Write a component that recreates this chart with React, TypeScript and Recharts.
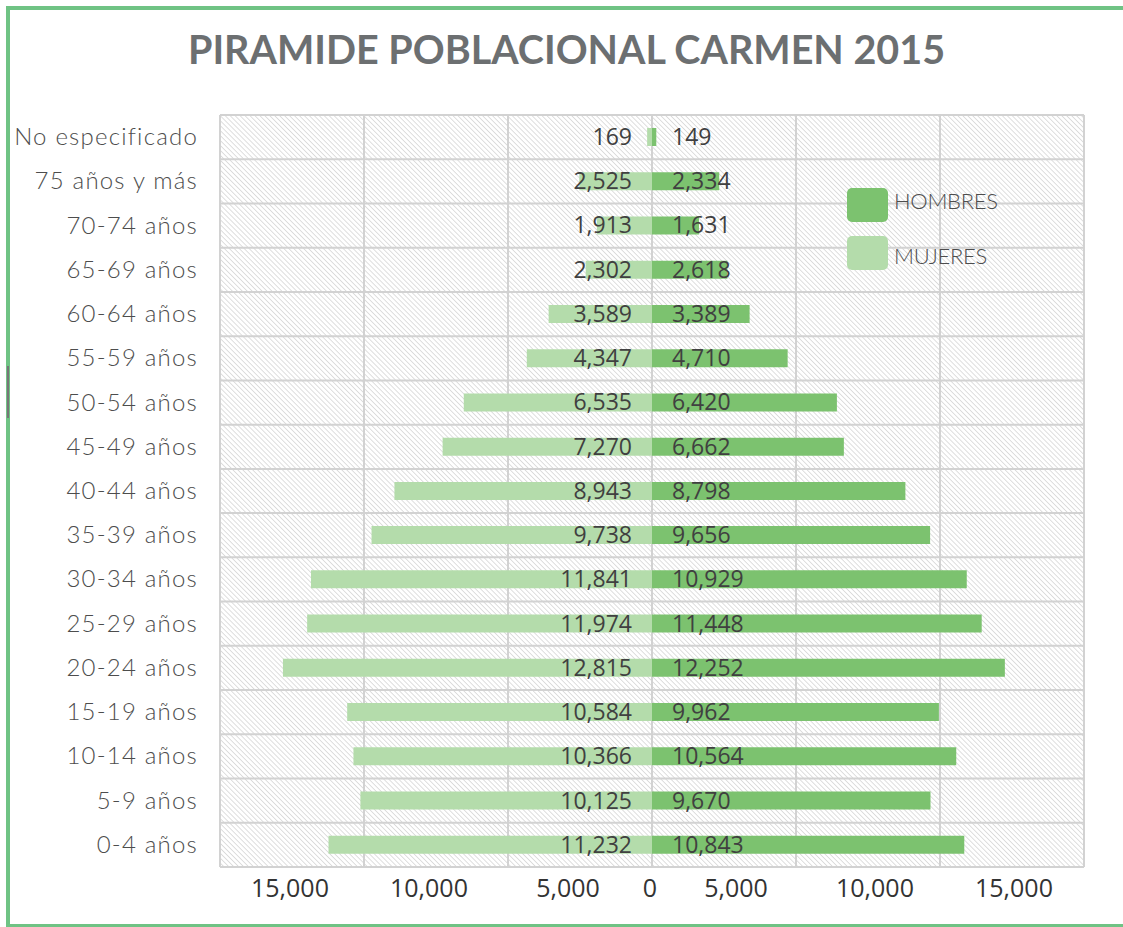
import { BarChart, Bar, XAxis, YAxis, CartesianGrid, LabelList } from 'recharts';

const CATEGORIAS = [
  'No especificado', '75 años y más', '70-74 años', '65-69 años', '60-64 años',
  '55-59 años', '50-54 años', '45-49 años', '40-44 años', '35-39 años',
  '30-34 años', '25-29 años', '20-24 años', '15-19 años', '10-14 años',
  '5-9 años', '0-4 años',
];
const MUJERES = [169, 2525, 1913, 2302, 3589, 4347, 6535, 7270, 8943, 9738, 11841, 11974, 12815, 10584, 10366, 10125, 11232];
const HOMBRES = [149, 2334, 1631, 2618, 3389, 4710, 6420, 6662, 8798, 9656, 10929, 11448, 12252, 9962, 10564, 9670, 10843];
const X_TICKS = [-15000, -10000, -5000, 0, 5000, 10000, 15000];

const W = 1123;
const H = 927;
const MARGIN = { top: 115, right: 39, bottom: 30, left: 0 };
const C_HOMBRES = '#7cc26f';
const C_MUJERES = '#b4dcab';
const GRID = '#d2d2d2';
const fmt = (v: number) => Math.abs(v).toLocaleString('en-US');

const data = CATEGORIAS.map((grupo, i) => ({ grupo, mujeres: -MUJERES[i], hombres: HOMBRES[i] }));

function XTick({ x, y, payload }: any) {
  const v = payload.value as number;
  // etiquetas desplazadas hacia el centro, como en el original
  const dx = v === 0 ? -2 : -Math.sign(v) * (55 + Math.abs(v) / 1000);
  return (
    <text x={x + dx} y={y + 22} textAnchor="middle" fill="#333"
      style={{ fontFamily: '"Open Sans", sans-serif', fontSize: 25 }}>
      {fmt(v)}
    </text>
  );
}

function YTick({ x, y, payload }: any) {
  return (
    <text x={x} y={y} dy={8} textAnchor="end" fill="#4d4d4d"
      style={{ fontFamily: 'Lato, sans-serif', fontWeight: 300, fontSize: 24, letterSpacing: 1.2 }}>
      {payload.value}
    </text>
  );
}

function labelFor(side: 'm' | 'h') {
  return ({ x, y, width, height, value }: any) => {
    const zero = side === 'm' ? Math.max(x, x + width) : Math.min(x, x + width);
    return (
      <text x={side === 'm' ? zero - 20 : zero + 20} y={y + height / 2} dy={8}
        textAnchor={side === 'm' ? 'end' : 'start'} fill="#404040"
        style={{ fontFamily: '"Open Sans", sans-serif', fontSize: 23 }}>
        {fmt(value)}
      </text>
    );
  };
}

function LegendBox() {
  const items = [
    { name: 'HOMBRES', color: C_HOMBRES, pad: 1 },
    { name: 'MUJERES', color: C_MUJERES, pad: 8 },
  ];
  return (
    <div style={{ position: 'absolute', left: 847, top: 188 }}>
      {items.map((it) => (
        <div key={it.name} style={{ display: 'flex', alignItems: 'flex-start', height: 34, marginBottom: 14 }}>
          <div style={{ width: 41, height: 34, background: it.color, borderRadius: 5 }} />
          <span style={{
            fontFamily: 'Lato, sans-serif', fontWeight: 300, fontSize: 22, color: '#4d4d4d',
            marginLeft: 6, lineHeight: '24px', letterSpacing: -0.3, paddingTop: it.pad,
          }}>
            {it.name}
          </span>
        </div>
      ))}
    </div>
  );
}

export default function App() {
  return (
    <div style={{ position: 'absolute', left: 0, top: 0, width: W, height: H, overflow: 'hidden', background: '#fff' }}>
      <div style={{ position: 'absolute', left: 6, top: 6, width: 1140, height: 914, border: '4px solid #6fc384' }} />
      <div style={{ position: 'absolute', left: 7, top: 366, width: 2, height: 52, background: '#777' }} />
      <div style={{
        position: 'absolute', left: 0, width: 1133, top: 25, textAlign: 'center',
        fontFamily: 'Lato, sans-serif', fontWeight: 700, fontSize: 39.5, color: '#6c6f71',
      }}>
        PIRAMIDE POBLACIONAL CARMEN 2015
      </div>
      <div style={{ position: 'absolute', left: 0, top: 0 }}>
        <BarChart width={W} height={H} data={data} layout="vertical" stackOffset="sign" margin={MARGIN}>
          <defs>
            <pattern id="hatch" width="3.5" height="3.5" patternUnits="userSpaceOnUse" patternTransform="rotate(-45)">
              <line x1="0" y1="0" x2="0" y2="3.5" stroke="#c4c4c4" strokeWidth="1.1" />
            </pattern>
          </defs>
          <CartesianGrid
            stroke={GRID}
            strokeWidth={2}
            fill="url(#hatch)"
            horizontalCoordinatesGenerator={({ offset }: any) => {
              const top = offset?.top ?? MARGIN.top;
              const h = offset?.height ?? H - MARGIN.top - MARGIN.bottom - 30;
              return CATEGORIAS.map((_, i) => top + (i * h) / CATEGORIAS.length).concat(top + h);
            }}
          />
          <XAxis type="number" domain={[-15000, 15000]} ticks={X_TICKS} height={30} axisLine={false} tickLine={false} tick={<XTick />} />
          <YAxis type="category" dataKey="grupo" width={220} axisLine={false} tickLine={false} tickSize={0} tickMargin={22} tick={<YTick />} interval={0} />
          <Bar dataKey="mujeres" name="MUJERES" stackId="p" fill={C_MUJERES} barSize={18} isAnimationActive={false}>
            <LabelList dataKey="mujeres" content={labelFor('m')} />
          </Bar>
          <Bar dataKey="hombres" name="HOMBRES" stackId="p" fill={C_HOMBRES} barSize={18} isAnimationActive={false}>
            <LabelList dataKey="hombres" content={labelFor('h')} />
          </Bar>
        </BarChart>
      </div>
      <LegendBox />
    </div>
  );
}
